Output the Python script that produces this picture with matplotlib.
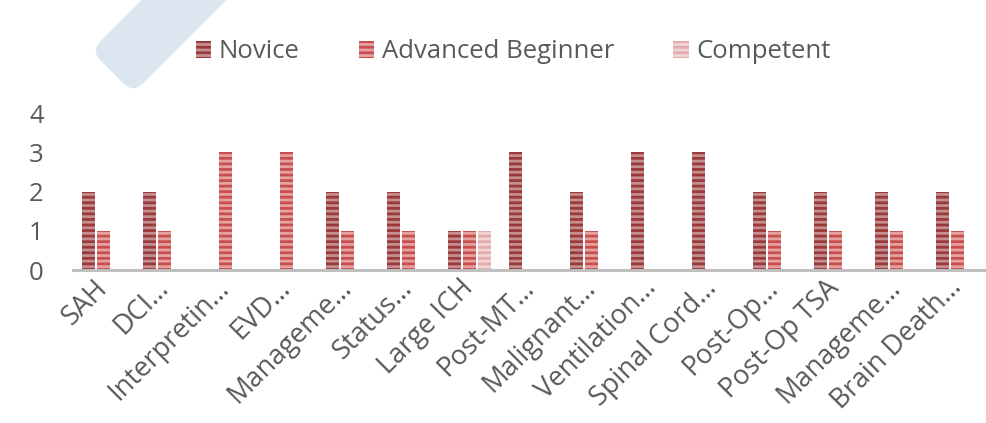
import matplotlib
matplotlib.use("Agg")
import matplotlib.pyplot as plt
import numpy as np
from matplotlib.patches import FancyBboxPatch, Patch
from matplotlib.transforms import Affine2D

categories = ["SAH", "DCI…", "Interpretin…", "EVD…", "Manageme…", "Status…",
              "Large ICH", "Post-MT…", "Malignant…", "Ventilation…",
              "Spinal Cord…", "Post-Op…", "Post-Op TSA", "Manageme…",
              "Brain Death…"]
series_names = ["Novice", "Advanced Beginner", "Competent"]
novice = [2, 2, 0, 0, 2, 2, 1, 3, 2, 3, 3, 2, 2, 2, 2]
adv_beginner = [1, 1, 3, 3, 1, 1, 1, 0, 1, 0, 0, 1, 1, 1, 1]
competent = [0, 0, 0, 0, 0, 0, 1, 0, 0, 0, 0, 0, 0, 0, 0]
yticks = [0, 1, 2, 3, 4]

plt.rcParams['font.family'] = ['Open Sans', 'DejaVu Sans']
plt.rcParams['hatch.linewidth'] = 2.0

faces = ['#c58e8f', '#e4a3a1', '#f1d4d4']
hatches = ['#9a3a3c', '#c84f4e', '#e3acac']
txt = '#595959'

fig = plt.figure(figsize=(9.87, 4.23), dpi=100)
ax = fig.add_axes([72.8/987, 1-270/423, (987.8-72.8)/987, (270-113)/423])
ax.set_facecolor('none')

# watermark band
band = FancyBboxPatch((0, -30), 320, 60, boxstyle="round,pad=0,rounding_size=14",
                      transform=Affine2D().rotate_deg(45).translate(112, 351),
                      facecolor='#dce6f0', edgecolor='none', zorder=0)
fig.patches.append(band)

x = np.arange(len(categories))
off = 0.245
w = 0.21
for i, vals in enumerate([novice, adv_beginner, competent]):
    ax.bar(x + (i - 1) * off, vals, width=w, facecolor=faces[i],
           edgecolor=hatches[i], hatch='---', linewidth=0, zorder=2)

ax.set_xlim(-0.5, len(categories) - 0.5)
ax.set_ylim(0, 4)
ax.set_yticks(yticks)
ax.set_yticklabels([str(v) for v in yticks], fontsize=18.5, color=txt)
ax.set_xticks(x)
ax.set_xticklabels(categories, rotation=45, ha='right', va='center',
                   rotation_mode='anchor', fontsize=19.5, color=txt)
ax.tick_params(axis='both', length=0)
ax.tick_params(axis='y', pad=21)
ax.tick_params(axis='x', pad=10)
for s in ['top', 'right', 'left']:
    ax.spines[s].set_visible(False)
ax.spines['bottom'].set_color('#bfbfbf')
ax.spines['bottom'].set_linewidth(2.2)

handles = [Patch(facecolor=faces[i], edgecolor=hatches[i], hatch='---', linewidth=0)
           for i in range(3)]
leg = fig.legend(handles, series_names, loc='center', bbox_to_anchor=(0.52, 1 - 52/423),
                 ncol=3, frameon=False, fontsize=18.5, handlelength=0.6, handleheight=0.6,
                 handletextpad=0.3, columnspacing=2.3)
for t in leg.get_texts():
    t.set_color(txt)

fig.savefig('out.png', dpi=100)
